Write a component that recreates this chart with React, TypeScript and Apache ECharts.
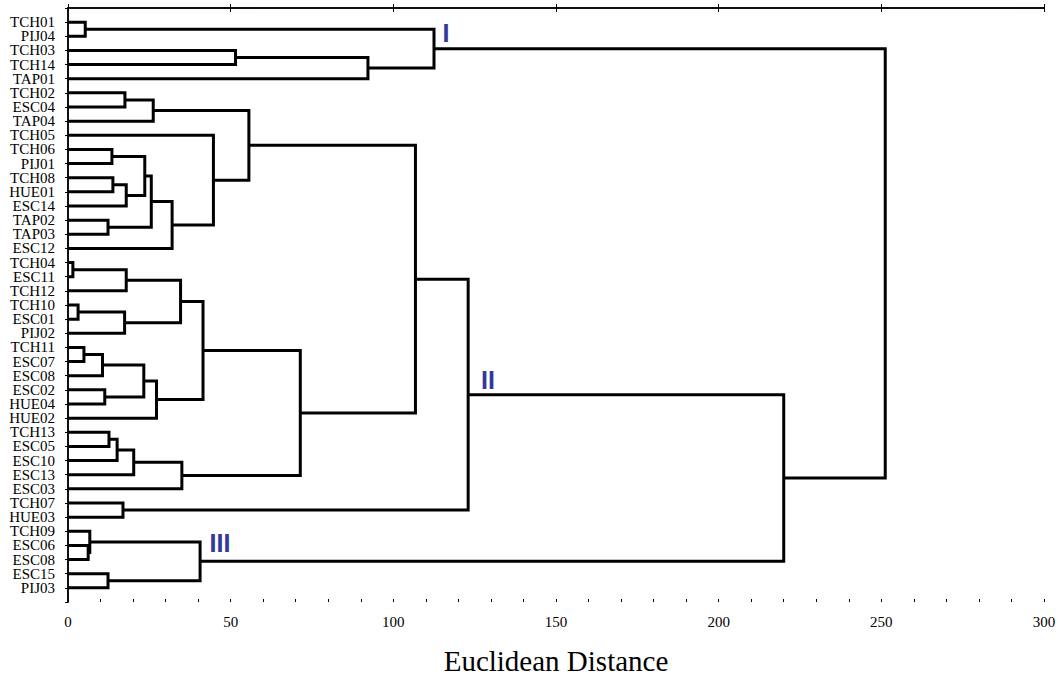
import React, { useEffect, useRef } from "react";
import * as echarts from "echarts";

// Leaves, top to bottom
const leafNames = [
  "TCH01", "PIJ04", "TCH03", "TCH14", "TAP01", "TCH02", "ESC04", "TAP04", "TCH05", "TCH06",
  "PIJ01", "TCH08", "HUE01", "ESC14", "TAP02", "TAP03", "ESC12", "TCH04", "ESC11", "TCH12",
  "TCH10", "ESC01", "PIJ02", "TCH11", "ESC07", "ESC08", "ESC02", "HUE04", "HUE02", "TCH13",
  "ESC05", "ESC10", "ESC13", "ESC03", "TCH07", "HUE03", "TCH09", "ESC06", "ESC08", "ESC15",
  "PIJ03",
];

// Linkage: node ids 0..40 are leaves, merge k creates node 41 + k
const mergeLeft = [
  0, 2, 42, 41, 5, 45, 9, 11, 48, 47,
  14, 50, 52, 8, 46, 17, 56, 20, 58, 57,
  23, 61, 26, 62, 64, 60, 29, 67, 68, 69,
  66, 55, 34, 72, 37, 36, 39, 76, 74, 44,
];
const mergeRight = [
  1, 3, 4, 43, 6, 7, 10, 12, 13, 49,
  15, 51, 16, 53, 54, 18, 19, 21, 22, 59,
  24, 25, 27, 63, 28, 65, 30, 31, 32, 33,
  70, 71, 35, 73, 38, 75, 40, 77, 78, 79,
];
const mergeHeight = [
  5.3, 51.5, 92.2, 112.5, 17.5, 26.2, 13.5, 13.8, 17.9, 23.6,
  12.3, 25.6, 32.0, 44.7, 55.6, 1.5, 17.9, 3.1, 17.4, 34.6,
  4.9, 10.6, 11.3, 23.3, 27.2, 41.5, 12.6, 15.1, 20.2, 35.0,
  71.4, 106.8, 16.9, 123.0, 6.2, 6.7, 12.3, 40.6, 220.0, 251.2,
];

// Cluster labels
const clusterNames = ["I", "II", "III"];
const clusterX = [116.2, 129.1, 46.7];
const clusterY = [1.77, 26.3, 37.8];

const xTicks = { min: 0, max: 300, interval: 50, minorInterval: 10 };

function buildLinks() {
  const n = leafNames.length;
  const posY: number[] = [];
  const posH: number[] = [];
  for (let i = 0; i < n; i++) {
    posY[i] = i + 1;
    posH[i] = 0;
  }
  const links: number[][] = [];
  for (let k = 0; k < mergeLeft.length; k++) {
    const a = mergeLeft[k];
    const b = mergeRight[k];
    const h = mergeHeight[k];
    links.push([posH[a], posY[a], posH[b], posY[b], h]);
    posY[n + k] = (posY[a] + posY[b]) / 2;
    posH[n + k] = h;
  }
  return links;
}

export default function App() {
  const ref = useRef<HTMLDivElement>(null);
  useEffect(() => {
    if (!ref.current) return;
    const chart = echarts.init(ref.current, null, { renderer: "svg" });
    const serif = "Liberation Serif";
    const links = buildLinks();
    const labelData = clusterNames.map((nm, i) => [clusterX[i], clusterY[i], nm]);
    chart.setOption({
      animation: false,
      backgroundColor: "#fff",
      grid: { left: 68, right: 16, top: 8, bottom: 86 },
      xAxis: [
        {
          type: "value",
          position: "bottom",
          min: xTicks.min,
          max: xTicks.max,
          interval: xTicks.interval,
          axisLine: { show: true, lineStyle: { color: "#000", width: 1.5 } },
          axisTick: { show: true, inside: true, length: 4, lineStyle: { color: "#000", width: 1 } },
          minorTick: { show: false },
          axisLabel: { color: "#000", fontFamily: serif, fontSize: 15, margin: 12 },
          splitLine: { show: false },
          name: "Euclidean Distance",
          nameLocation: "middle",
          nameGap: 44,
          nameTextStyle: { color: "#000", fontFamily: serif, fontSize: 29 },
        },
        {
          type: "value",
          position: "top",
          min: xTicks.min,
          max: xTicks.max,
          interval: xTicks.interval,
          axisLine: { show: true, lineStyle: { color: "#000", width: 1.5 } },
          axisTick: { show: true, inside: true, length: 4, lineStyle: { color: "#000", width: 1 } },
          minorTick: { show: false },
          axisLabel: { show: false },
          splitLine: { show: false },
        },
        {
          type: "value",
          position: "bottom",
          min: xTicks.min,
          max: xTicks.max,
          interval: xTicks.minorInterval,
          axisLine: { show: false },
          axisTick: { show: true, inside: true, length: 3, lineStyle: { color: "#000", width: 1 } },
          minorTick: { show: false },
          axisLabel: { show: false },
          splitLine: { show: false },
        },
      ],
      yAxis: [
        {
          type: "value",
          position: "left",
          inverse: true,
          min: 0,
          max: leafNames.length + 1,
          interval: 1,
          axisLine: { show: true, lineStyle: { color: "#000", width: 1.5 } },
          axisTick: { show: false },
          axisLabel: {
            color: "#000",
            fontFamily: serif,
            fontSize: 15,
            margin: 13,
            formatter: (v: number) => leafNames[Math.round(v) - 1] ?? "",
          },
          splitLine: { show: false },
        },
        {
          type: "value",
          position: "right",
          inverse: true,
          min: 0,
          max: leafNames.length + 1,
          interval: 1,
          axisLine: { show: true, lineStyle: { color: "#000", width: 1.5 } },
          axisTick: { show: true, inside: true, length: 3, lineStyle: { color: "#000", width: 1 } },
          axisLabel: { show: false },
          splitLine: { show: false },
        },
      ],
      series: [
        {
          type: "custom",
          xAxisIndex: 0,
          yAxisIndex: 0,
          data: links,
          encode: { x: [0, 2, 4], y: [1, 3] },
          renderItem: (params: any, api: any) => {
            const a = api.coord([api.value(0), api.value(1)]);
            const p1 = api.coord([api.value(4), api.value(1)]);
            const p2 = api.coord([api.value(4), api.value(3)]);
            const b = api.coord([api.value(2), api.value(3)]);
            return {
              type: "polyline",
              shape: { points: [a, p1, p2, b] },
              style: { stroke: "#000", lineWidth: 3, fill: null, lineJoin: "miter" },
            };
          },
          silent: true,
        },
        {
          type: "custom",
          xAxisIndex: 0,
          yAxisIndex: 0,
          data: labelData,
          encode: { x: 0, y: 1 },
          renderItem: (params: any, api: any) => {
            const p = api.coord([api.value(0), api.value(1)]);
            return {
              type: "text",
              x: p[0],
              y: p[1],
              style: {
                text: clusterNames[params.dataIndex],
                fill: "#33399a",
                fontFamily: "Liberation Sans",
                fontWeight: "bold",
                fontSize: 25,
                align: "center",
                verticalAlign: "middle",
              },
            };
          },
          silent: true,
        },
      ],
    });
    return () => chart.dispose();
  }, []);
  return (
    <div
      ref={ref}
      style={{ position: "absolute", left: 0, top: 0, width: 1060, height: 688 }}
    />
  );
}
